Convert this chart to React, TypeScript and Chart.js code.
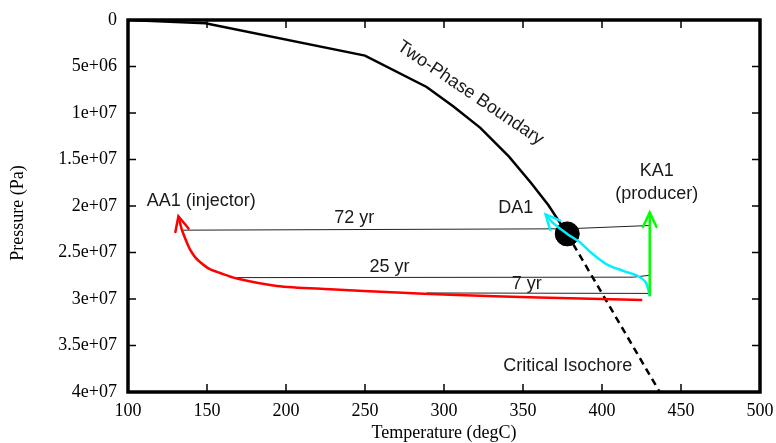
import React, { useEffect, useRef } from "react";
import { Chart, registerables } from "chart.js";

Chart.register(...registerables);

// ---- data (Temperature degC, Pressure Pa) ----
const boundaryT = [100, 149, 250, 289, 306, 323, 341, 355, 366, 378];
const boundaryP = [0, 3.5e5, 3.83e6, 7.2e6, 9.3e6, 1.16e7, 1.466e7, 1.75e7, 1.99e7, 2.3e7];

const isochoreT = [378, 436.5];
const isochoreP = [2.3e7, 4.0e7];

const criticalT = [378];
const criticalP = [2.3e7];

const aa1T = [131.9, 134, 138.2, 140.4, 143.5, 150.9, 158.3, 168.9, 194.2, 228, 270.3, 304, 360, 425.5];
const aa1P = [2.11e7, 2.25e7, 2.43e7, 2.5e7, 2.57e7, 2.67e7, 2.72e7, 2.78e7, 2.86e7, 2.895e7, 2.93e7, 2.955e7, 2.985e7, 3.01e7];

const da1T = [364.3, 369.5, 378, 386, 393, 403.3, 413.9, 422.4, 427.6, 430.4];
const da1P = [2.09e7, 2.19e7, 2.3e7, 2.39e7, 2.5e7, 2.63e7, 2.7e7, 2.75e7, 2.82e7, 2.97e7];

const ka1T = [430.2, 430.2];
const ka1P = [2.07e7, 2.97e7];

const yr72T = [135, 378, 430];
const yr72P = [2.26e7, 2.245e7, 2.21e7];
const yr25T = [169, 420, 430];
const yr25P = [2.77e7, 2.765e7, 2.745e7];
const yr7T = [289, 430];
const yr7P = [2.935e7, 2.94e7];

const xTickValues = [100, 150, 200, 250, 300, 350, 400, 450, 500];
const xTickLabels = ["100", "150", "200", "250", "300", "350", "400", "450", "500"];
const yTickValues = [0, 5e6, 1e7, 1.5e7, 2e7, 2.5e7, 3e7, 3.5e7, 4e7];
const yTickLabels = ["0", "5e+06", "1e+07", "1.5e+07", "2e+07", "2.5e+07", "3e+07", "3.5e+07", "4e+07"];

const annotationText = ["72 yr", "25 yr", "7 yr", "AA1 (injector)", "DA1", "KA1", "(producer)", "Critical Isochore", "Two-Phase Boundary"];
const annotationT = [243.2, 265.5, 352.3, 111.8, 334.3, 434.6, 434.6, 378.3, 316.7];
const annotationP = [2.188e7, 2.706e7, 2.888e7, 2.0e7, 2.08e7, 1.673e7, 1.93e7, 3.778e7, 7.86e6];
const annotationAlign = ["center", "center", "center", "left", "left", "center", "center", "center", "center"];
const annotationAngle = [0, 0, 0, 0, 0, 0, 0, 0, 34];

const zip = (xs: number[], ys: number[]) => xs.map((x, i) => ({ x, y: ys[i] }));

const labelFor = (values: number[], labels: string[], v: number) => {
  const i = values.findIndex((t) => Math.abs(t - v) < 1e-6 * Math.max(1, Math.abs(t)));
  return i >= 0 ? labels[i] : "";
};

const decorPlugin = {
  id: "decor",
  afterDatasetsDraw(chart: any) {
    const ctx = chart.ctx;
    const { left, right, top, bottom } = chart.chartArea;
    const xs = chart.scales.x;
    const ys = chart.scales.y;

    // arrowheads
    chart.data.datasets.forEach((ds: any, i: number) => {
      if (!ds.arrowHead) return;
      const meta = chart.getDatasetMeta(i);
      const p0 = meta.data[0];
      const p1 = meta.data[1];
      const ang = Math.atan2(p1.y - p0.y, p1.x - p0.x);
      const L = 16;
      const a = 0.44;
      ctx.save();
      ctx.strokeStyle = ds.borderColor;
      ctx.lineWidth = ds.borderWidth;
      ctx.lineCap = "round";
      ctx.beginPath();
      ctx.moveTo(p0.x + L * Math.cos(ang - a), p0.y + L * Math.sin(ang - a));
      ctx.lineTo(p0.x, p0.y);
      ctx.lineTo(p0.x + L * Math.cos(ang + a), p0.y + L * Math.sin(ang + a));
      ctx.stroke();
      ctx.restore();
    });

    // annotations
    ctx.save();
    ctx.fillStyle = "#1a1a1a";
    ctx.font = "18px 'Liberation Sans', Arial, sans-serif";
    annotationText.forEach((t, i) => {
      const px = xs.getPixelForValue(annotationT[i]);
      const py = ys.getPixelForValue(annotationP[i]);
      ctx.save();
      ctx.translate(px, py);
      if (annotationAngle[i]) {
        ctx.rotate((annotationAngle[i] * Math.PI) / 180);
        ctx.textBaseline = "middle";
      } else {
        ctx.textBaseline = "alphabetic";
      }
      ctx.textAlign = annotationAlign[i] as CanvasTextAlign;
      ctx.fillText(t, 0, 0);
      ctx.restore();
    });
    ctx.restore();

    // frame and inward ticks
    ctx.save();
    ctx.strokeStyle = "#000";
    ctx.lineWidth = 1.5;
    const tl = 8;
    ctx.beginPath();
    xs.ticks.forEach((tk: any) => {
      const px = xs.getPixelForValue(tk.value);
      if (Math.abs(px - left) < 1 || Math.abs(px - right) < 1) return;
      ctx.moveTo(px, bottom);
      ctx.lineTo(px, bottom - tl);
      ctx.moveTo(px, top);
      ctx.lineTo(px, top + tl);
    });
    ys.ticks.forEach((tk: any) => {
      const py = ys.getPixelForValue(tk.value);
      if (Math.abs(py - top) < 1 || Math.abs(py - bottom) < 1) return;
      ctx.moveTo(left, py);
      ctx.lineTo(left + tl, py);
      ctx.moveTo(right, py);
      ctx.lineTo(right - tl, py);
    });
    ctx.stroke();
    ctx.lineWidth = 3.5;
    ctx.strokeRect(left, top, right - left, bottom - top);
    ctx.restore();

    // axis titles
    ctx.save();
    ctx.fillStyle = "#000";
    ctx.font = "18px 'Liberation Serif', 'Times New Roman', serif";
    ctx.textAlign = "center";
    ctx.textBaseline = "middle";
    ctx.fillText("Temperature (degC)", (left + right) / 2, 433);
    ctx.translate(18.5, 213);
    ctx.rotate(-Math.PI / 2);
    ctx.fillText("Pressure (Pa)", 0, 0);
    ctx.restore();
  },
};

export default function App() {
  const ref = useRef<HTMLCanvasElement | null>(null);

  useEffect(() => {
    if (!ref.current) return;
    const line = (data: any, color: string, width: number, order: number, extra: any = {}) => ({
      data,
      borderColor: color,
      backgroundColor: color,
      borderWidth: width,
      showLine: true,
      pointRadius: 0,
      pointHoverRadius: 0,
      order,
      ...extra,
    });
    const tickFont = { family: "'Liberation Serif', 'Times New Roman', serif", size: 18 };
    const chart = new Chart(ref.current, {
      type: "scatter",
      data: {
        datasets: [
          line(zip(yr72T, yr72P), "#222", 1, 10),
          line(zip(yr25T, yr25P), "#222", 1, 10),
          line(zip(yr7T, yr7P), "#222", 1, 10),
          line(zip(boundaryT, boundaryP), "#000", 2.5, 8),
          line(zip(isochoreT, isochoreP), "#000", 2.5, 8, { borderDash: [7, 5] }),
          {
            data: zip(criticalT, criticalP),
            backgroundColor: "#000",
            borderColor: "#000",
            pointRadius: 12,
            pointHoverRadius: 12,
            showLine: false,
            order: 5,
          },
          line(zip(aa1T, aa1P), "#ff0000", 2.5, 3, { arrowHead: true, tension: 0.3 }),
          line(zip(da1T, da1P), "#00f0ff", 2.5, 2, { arrowHead: true, tension: 0.3 }),
          line(zip(ka1T, ka1P), "#00ff00", 2.5, 1, { arrowHead: true }),
        ],
      },
      options: {
        animation: false,
        responsive: false,
        devicePixelRatio: 1,
        layout: { padding: { top: 20, right: 16, left: 0, bottom: 0 } },
        plugins: { legend: { display: false }, tooltip: { enabled: false } },
        events: [],
        scales: {
          x: {
            type: "linear",
            min: 100,
            max: 500,
            grid: { display: false },
            border: { display: false },
            ticks: {
              stepSize: 50,
              padding: 0,
              color: "#000",
              font: tickFont,
              maxRotation: 0,
              callback: (v: any) => labelFor(xTickValues, xTickLabels, Number(v)),
            },
            afterFit: (s: any) => {
              s.height = 51;
            },
          },
          y: {
            type: "linear",
            reverse: true,
            min: 0,
            max: 4e7,
            grid: { display: false },
            border: { display: false },
            ticks: {
              stepSize: 5e6,
              padding: 3,
              color: "#000",
              font: tickFont,
              callback: (v: any) => labelFor(yTickValues, yTickLabels, Number(v)),
            },
            afterFit: (s: any) => {
              s.width = 128;
            },
          },
        },
      } as any,
      plugins: [decorPlugin],
    });
    return () => chart.destroy();
  }, []);

  return (
    <div style={{ position: "fixed", left: 0, top: 0, width: 776, height: 443, background: "#fff" }}>
      <canvas ref={ref} width={776} height={443} style={{ width: 776, height: 443 }} />
    </div>
  );
}
